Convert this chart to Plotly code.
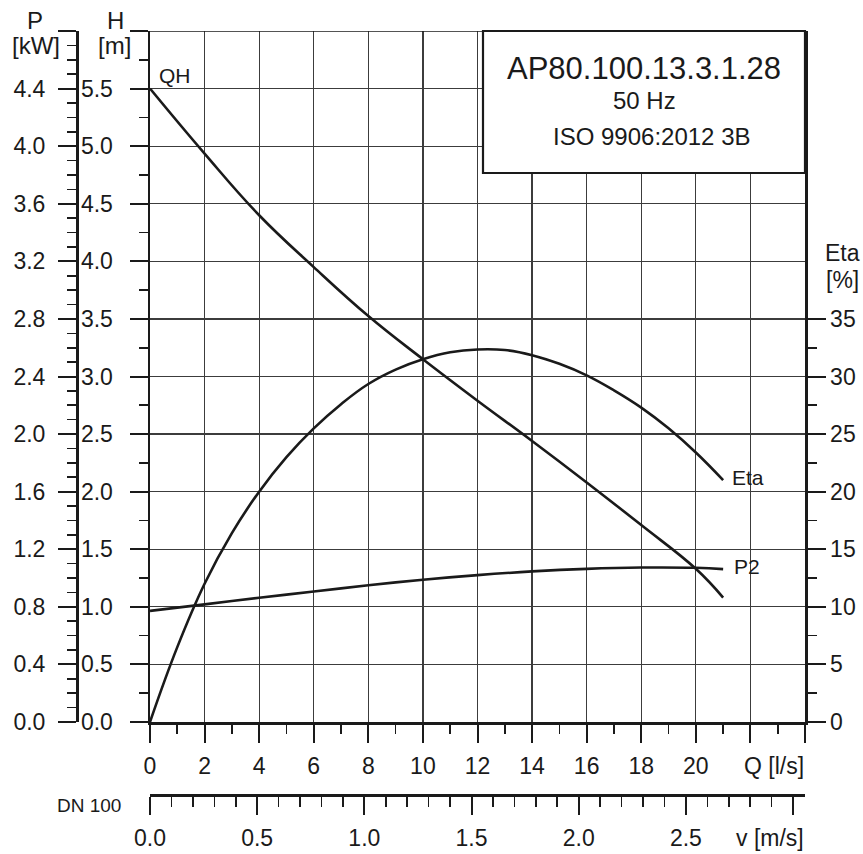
import math
import plotly.graph_objects as go

# ---------------- data ----------------
q_qh = [0, 2, 4, 6, 8, 10, 12, 14, 16, 18, 20, 21]
h_qh = [5.5, 4.935, 4.40, 3.95, 3.525, 3.15, 2.79, 2.44, 2.08, 1.71, 1.33, 1.08]

q_eta = [0, 1, 2, 3, 4, 5, 6, 7, 8, 9, 10, 11, 12, 13, 14, 15, 16, 17, 18, 19, 20, 21]
eta = [0, 6.5, 12.0, 16.4, 20.0, 23.0, 25.5, 27.6, 29.35, 30.6, 31.5, 32.1, 32.35, 32.3,
       31.85, 31.1, 30.1, 28.8, 27.3, 25.5, 23.4, 21.0]

q_p2 = [0, 2, 4, 6, 8, 10, 12, 14, 16, 18, 20, 21]
p2 = [0.772, 0.817, 0.863, 0.906, 0.950, 0.988, 1.020, 1.046, 1.064, 1.073, 1.071, 1.062]

q_ticks = [0, 2, 4, 6, 8, 10, 12, 14, 16, 18, 20, 22, 24]
q_ticktext = ["0", "2", "4", "6", "8", "10", "12", "14", "16", "18", "20", "", ""]
h_ticks = [0, 0.5, 1.0, 1.5, 2.0, 2.5, 3.0, 3.5, 4.0, 4.5, 5.0, 5.5, 6.0]
h_ticktext = ["0.0", "0.5", "1.0", "1.5", "2.0", "2.5", "3.0", "3.5", "4.0", "4.5", "5.0", "5.5", ""]
p_ticks = [0, 0.4, 0.8, 1.2, 1.6, 2.0, 2.4, 2.8, 3.2, 3.6, 4.0, 4.4, 4.8]
p_ticktext = ["0.0", "0.4", "0.8", "1.2", "1.6", "2.0", "2.4", "2.8", "3.2", "3.6", "4.0", "4.4", ""]
eta_ticks = [0, 5, 10, 15, 20, 25, 30, 35]
eta_ticktext = ["0", "5", "10", "15", "20", "25", "30", "35"]
v_ticks = [0, 0.5, 1.0, 1.5, 2.0, 2.5, 3.0]
v_ticktext = ["0.0", "0.5", "1.0", "1.5", "2.0", "2.5", ""]

title_lines = ["AP80.100.13.3.1.28", "50 Hz", "ISO 9906:2012 3B"]
dn_mm = 100
Q_MAX = 24
H_MAX = 6.0
P_MAX = 4.8
ETA_MAX = 60

# ---------------- layout helpers ----------------
W, HGT = 863, 854
ML, MR, MT, MB = 0, 58, 31, 0
PW = W - ML - MR
PH = HGT - MT - MB
def px(x):
    return (x - ML) / PW
def py(y):
    return (HGT - MB - y) / PH

FONT = "Arial, Liberation Sans, sans-serif"
INK = "#1a1a1a"
GRID = "#3c3c3c"
TICKF = 23

area = math.pi / 4 * (dn_mm / 1000) ** 2
v_max = Q_MAX / 1000 / area

fig = go.Figure()
line = dict(color=INK, width=2.6, shape="spline", smoothing=1.2)
fig.add_trace(go.Scatter(x=q_qh, y=h_qh, mode="lines", line=line, xaxis="x", yaxis="y",
                         showlegend=False, hoverinfo="skip"))
fig.add_trace(go.Scatter(x=q_eta, y=eta, mode="lines", line=line, xaxis="x", yaxis="y3",
                         showlegend=False, hoverinfo="skip"))
fig.add_trace(go.Scatter(x=q_p2, y=p2, mode="lines", line=line, xaxis="x", yaxis="y2",
                         showlegend=False, hoverinfo="skip"))
# helper trace so the velocity axis is drawn
fig.add_trace(go.Scatter(x=[0, v_max], y=[None, None], mode="lines", xaxis="x2", yaxis="y",
                         showlegend=False, hoverinfo="skip"))

def minor_vals(start, stop, step, majors):
    vals = []
    n = int(round((stop - start) / step))
    for i in range(n + 1):
        v = round(start + i * step, 4)
        if all(abs(v - m) > 1e-6 for m in majors):
            vals.append(v)
    return vals

xdom = [px(150), 1]
ydom = [py(722), 1]

def axis_common(standoff):
    return dict(ticks="outside", ticklen=18, tickwidth=2, tickcolor=INK,
                showline=True, linewidth=2.5, linecolor=INK, automargin=False,
                tickfont=dict(family=FONT, size=TICKF, color=INK), zeroline=False,
                ticklabelstandoff=standoff)

def minor(vals, length):
    return dict(tickmode="array", tickvals=vals, ticks="outside", ticklen=length,
                tickwidth=1.6, tickcolor=INK, showgrid=False)

fig.update_layout(
    width=W, height=HGT, margin=dict(l=ML, r=MR, t=MT, b=MB, pad=0, autoexpand=False),
    paper_bgcolor="white", plot_bgcolor="white", showlegend=False,
    font=dict(family=FONT, color=INK),
    xaxis=dict(domain=xdom, range=[0, Q_MAX], anchor="y", tickmode="array",
               tickvals=q_ticks, ticktext=q_ticktext, showgrid=True, gridcolor=GRID,
               gridwidth=1.2, minor=minor(minor_vals(0, Q_MAX, 1, q_ticks), 9),
               **axis_common(4)),
    xaxis2=dict(domain=xdom, range=[0, v_max], overlaying="x", anchor="free",
                position=py(795), side="bottom", tickmode="array", tickvals=v_ticks,
                ticktext=v_ticktext, showgrid=False,
                minor=minor(minor_vals(0, 3.0, 0.1, v_ticks), 10),
                **axis_common(4)),
    yaxis=dict(domain=ydom, range=[0, H_MAX], anchor="x", tickmode="array",
               tickvals=h_ticks, ticktext=h_ticktext, showgrid=True, gridcolor=GRID,
               gridwidth=1.2, minor=minor(minor_vals(0, H_MAX, 0.25, h_ticks), 9),
               **axis_common(12)),
    yaxis2=dict(domain=ydom, range=[0, P_MAX], overlaying="y", anchor="free",
                position=px(77), side="left", tickmode="array", tickvals=p_ticks,
                ticktext=p_ticktext, showgrid=False,
                minor=minor(minor_vals(0, P_MAX, 0.1, p_ticks), 9),
                **axis_common(8)),
    yaxis3=dict(domain=ydom, range=[0, ETA_MAX], overlaying="y", anchor="x",
                side="right", tickmode="array", tickvals=eta_ticks, ticktext=eta_ticktext,
                showgrid=False,
                minor=minor(minor_vals(0, 35, 2.5, eta_ticks), 9),
                **axis_common(0)),
)

# top frame line and the title box
fig.add_shape(type="line", xref="x", yref="y", x0=0, x1=Q_MAX, y0=H_MAX, y1=H_MAX,
              line=dict(color=INK, width=1.5), layer="above")
fig.add_shape(type="rect", xref="paper", yref="paper", x0=px(483), x1=px(805),
              y0=py(173), y1=py(31), fillcolor="white", line=dict(color=INK, width=2.2),
              layer="above")

def ann(text, x, y, size, xanchor="center"):
    fig.add_annotation(text=text, xref="paper", yref="paper", x=px(x), y=py(y),
                       xanchor=xanchor, yanchor="middle", showarrow=False,
                       font=dict(family=FONT, size=size, color=INK))

ann(title_lines[0], 644, 68, 31)
ann(title_lines[1], 644, 100, 24)
ann(title_lines[2], 651, 136, 24)

ann("P", 35, 20, 24)
ann("[kW]", 36, 46, 24)
ann("H", 116, 20, 24)
ann("[m]", 114, 46, 24)
ann("Eta", 842, 253, 23)
ann("[%]", 842, 280, 23)

ann("QH", 157, 75, 21, "left")
ann("Eta", 730, 477, 21, "left")
ann("P2", 732, 566, 21, "left")

ann("Q [l/s]", 806, 766, 23, "right")
ann("v [m/s]", 806, 838, 23, "right")
ann("DN 100", 123, 805, 19, "right")

fig.write_html("out.html",
               config={"displayModeBar": False, "staticPlot": True},
               post_script="document.documentElement.style.margin='0';"
                           "document.body.style.margin='0';"
                           "document.body.style.overflow='hidden';")
